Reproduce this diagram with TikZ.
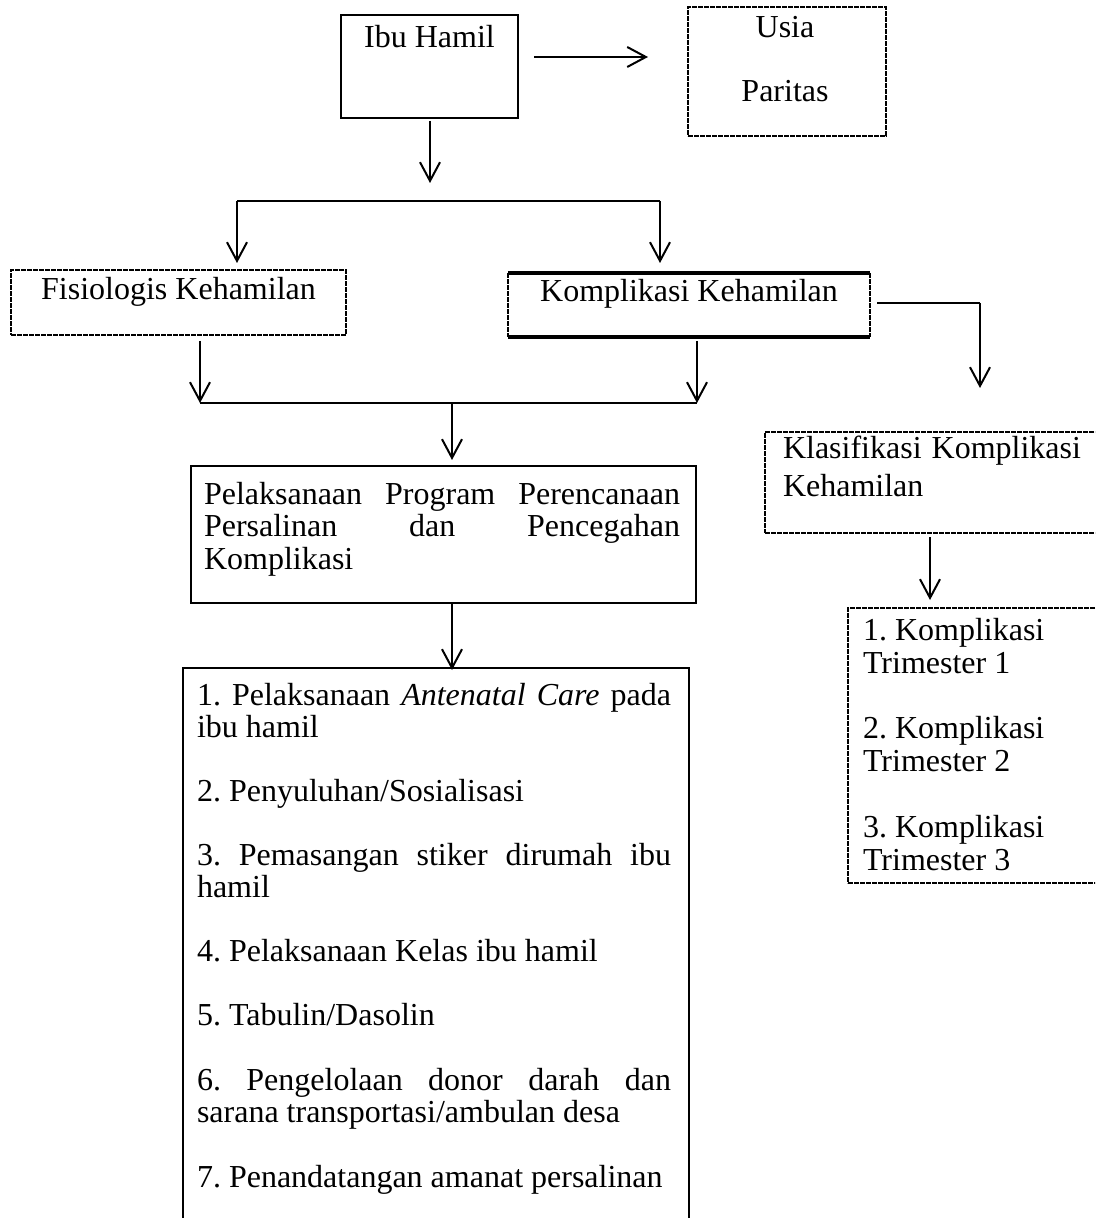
\documentclass[tikz,border=0pt]{standalone}
\usepackage{fontspec}
\setmainfont{Liberation Serif}
\usetikzlibrary{arrows.meta}
\frenchspacing
\begin{document}
\begin{tikzpicture}[x=0.375pt, y=-0.375pt,
  every node/.style={inner sep=0pt, outer sep=0pt},
  txt/.style={font=\fontsize{12pt}{14pt}\selectfont\frenchspacing, anchor=base west},
  txtc/.style={font=\fontsize{12pt}{14pt}\selectfont\frenchspacing, anchor=base},
  solidbox/.style={draw, line width=0.8pt},
  dotbox/.style={draw, line width=0.95pt, dash pattern=on 1.7pt off 0.55pt},
  nobox/.style={draw=none},
  arr/.style={line width=0.75pt, -{Straight Barb[length=7pt, width=7.5pt, line width=0.75pt]}},
  conn/.style={line width=0.55pt}
]
\path[use as bounding box, clip] (0,0) rectangle (1095,1218);
\fill[white] (0,0) rectangle (1095,1218);

% boxes
\node[solidbox, minimum width=177*0.375pt, minimum height=103*0.375pt] (ibu) at (429.5,66.5) {};
\node[dotbox, minimum width=198*0.375pt, minimum height=129*0.375pt] (usia) at (787,71.5) {};
\node[dotbox, minimum width=335*0.375pt, minimum height=65*0.375pt] (fis) at (178.5,302.5) {};
\node[nobox, minimum width=362*0.375pt, minimum height=64*0.375pt] (kom) at (689,305) {};
\draw[line width=1.3pt] (kom.north west) -- (kom.north east);
\draw[line width=1.3pt] (kom.south west) -- (kom.south east);
\draw[line width=0.95pt, dash pattern=on 1.7pt off 0.55pt] (kom.north west) -- (kom.south west);
\draw[line width=0.95pt, dash pattern=on 1.7pt off 0.55pt] (kom.north east) -- (kom.south east);
\node[solidbox, minimum width=505*0.375pt, minimum height=137*0.375pt] (pel) at (443.5,534.5) {};
\node[solidbox, line width=0.7pt, minimum width=506*0.375pt, minimum height=572*0.375pt] (list) at (436,954) {};
\node[dotbox, minimum width=345*0.375pt, minimum height=101*0.375pt] (klas) at (937.5,482.5) {};
\node[dotbox, minimum width=262*0.375pt, minimum height=275*0.375pt] (tri) at (979,745.5) {};

% texts
\node[txtc] (tIbu) at (429.5,48) {Ibu Hamil};
\node[txtc] (tUsia) at (785,38) {Usia};
\node[txtc] (tPar) at (785,102) {Paritas};
\node[txtc] (tFis) at (178.5,300) {Fisiologis Kehamilan};
\node[txtc] (tKom) at (689,302) {Komplikasi Kehamilan};

\node[txt] (tPel1) at (204,505) {\makebox[178.5pt][s]{Pelaksanaan Program Perencanaan}};
\node[txt] (tPel2) at (204,537) {\makebox[178.5pt][s]{Persalinan dan Pencegahan}};
\node[txt] (tPel3) at (204,569) {Komplikasi};

\node[txt] (l1a) at (197,705) {\makebox[177.75pt][s]{1. Pelaksanaan \textit{Antenatal Care} pada}};
\node[txt] (l1b) at (197,737) {ibu hamil};
\node[txt] (l2) at (197,801) {2. Penyuluhan/Sosialisasi};
\node[txt] (l3a) at (197,865) {\makebox[177.75pt][s]{3. Pemasangan stiker dirumah ibu}};
\node[txt] (l3b) at (197,897) {hamil};
\node[txt] (l4) at (197,961) {4. Pelaksanaan Kelas ibu hamil};
\node[txt] (l5) at (197,1025) {5. Tabulin/Dasolin};
\node[txt] (l6a) at (197,1090) {\makebox[177.75pt][s]{6. Pengelolaan donor darah dan}};
\node[txt] (l6b) at (197,1122) {sarana transportasi/ambulan desa};
\node[txt] (l7) at (197,1187) {7. Penandatangan amanat persalinan};

\node[txt] (k1) at (783,458) {\makebox[111.75pt][s]{Klasifikasi Komplikasi}};
\node[txt] (k2) at (783,497) {Kehamilan};

\node[txt] (t1a) at (863,640) {1. Komplikasi};
\node[txt] (t1b) at (863,673) {Trimester 1};
\node[txt] (t2a) at (863,738) {2. Komplikasi};
\node[txt] (t2b) at (863,771) {Trimester 2};
\node[txt] (t3a) at (863,837) {3. Komplikasi};
\node[txt] (t3b) at (863,870) {Trimester 3};

% connector points
\coordinate (ibuR) at (534,57);
\coordinate (usiaL) at (648,57);
\coordinate (ibuB) at (430,121);
\coordinate (ibuT) at (430,183);
\coordinate (brL) at (237,201);
\coordinate (brR) at (660,201);
\coordinate (fisT) at (237,263);
\coordinate (komT) at (660,263);
\coordinate (fisB) at (200,341);
\coordinate (komB) at (697,341);
\coordinate (jL) at (200,403);
\coordinate (jR) at (697,403);
\coordinate (jM) at (452,403);
\coordinate (pelT) at (452,460);
\coordinate (pelB) at (452,604);
\coordinate (listT) at (452,670);
\coordinate (komR) at (877,303);
\coordinate (komC) at (980,303);
\coordinate (klasT) at (980,388);
\coordinate (klasB) at (930,537);
\coordinate (triT) at (930,600);

% connectors
\draw[arr] (ibuR) -- (usiaL);
\draw[arr] (ibuB) -- (ibuT);
\draw[conn] (brL) -- (brR);
\draw[arr] (brL) -- (fisT);
\draw[arr] (brR) -- (komT);
\draw[arr] (fisB) -- (jL);
\draw[arr] (komB) -- (jR);
\draw[conn] (jL) -- (jR);
\draw[arr] (jM) -- (pelT);
\draw[arr] (pelB) -- (listT);
\draw[conn] (komR) -- (komC);
\draw[arr] (komC) -- (klasT);
\draw[arr] (klasB) -- (triT);
\end{tikzpicture}
\end{document}
